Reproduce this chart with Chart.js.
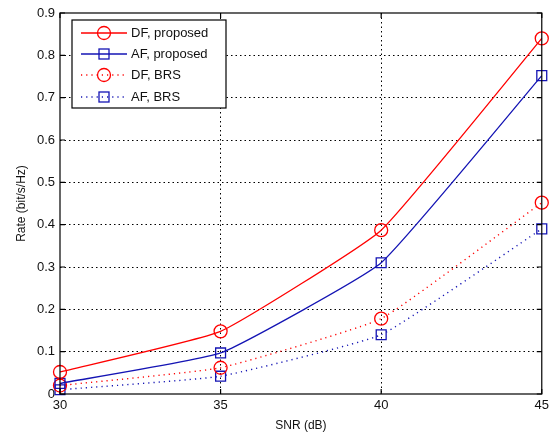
<!DOCTYPE html>
<html><head><meta charset="utf-8">
<script src="https://cdn.jsdelivr.net/npm/chart.js@4/dist/chart.umd.min.js"></script>
<style>html,body{margin:0;padding:0;background:#fff;}canvas{display:block;}</style>
</head><body>
<canvas id="c" width="553" height="437"></canvas>
<script>
const snr = [30, 35, 40, 45];
const dfProposed = [0.052, 0.148, 0.387, 0.840];
const afProposed = [0.025, 0.097, 0.310, 0.752];
const dfBRS = [0.020, 0.062, 0.178, 0.452];
const afBRS = [0.010, 0.042, 0.140, 0.390];
const yTicks = [0, 0.1, 0.2, 0.3, 0.4, 0.5, 0.6, 0.7, 0.8, 0.9];
const labels = ['DF, proposed', 'AF, proposed', 'DF, BRS', 'AF, BRS'];

const RED = 'rgb(255,0,0)', BLUE = 'rgb(20,20,180)';
const FONT = 'Liberation Sans, Arial, sans-serif';

function ds(label, data, color, style, dotted) {
  return {
    label, data: snr.map((x, i) => ({x, y: data[i]})),
    borderColor: color, backgroundColor: 'transparent',
    pointBorderColor: color, pointBackgroundColor: 'transparent',
    pointStyle: style, pointRadius: style === 'rect' ? 7 : 6.5, pointBorderWidth: 1.3,
    borderWidth: dotted ? 1.4 : 1.3, borderDash: dotted ? [1.2, 4] : [],
    tension: 0.12, clip: false
  };
}

const frame = {
  id: 'frame',
  afterDraw(chart) {
    const {ctx, chartArea: a} = chart;
    ctx.save();
    ctx.strokeStyle = '#000'; ctx.lineWidth = 1.2;
    ctx.strokeRect(a.left, a.top, a.right - a.left, a.bottom - a.top);
    const xs = chart.scales.x, ys = chart.scales.y;
    ctx.beginPath();
    snr.forEach(v => { const p = xs.getPixelForValue(v);
      ctx.moveTo(p, a.bottom); ctx.lineTo(p, a.bottom - 5);
      ctx.moveTo(p, a.top); ctx.lineTo(p, a.top + 5); });
    yTicks.forEach(v => { const p = ys.getPixelForValue(v);
      ctx.moveTo(a.left, p); ctx.lineTo(a.left + 5, p);
      ctx.moveTo(a.right, p); ctx.lineTo(a.right - 5, p); });
    ctx.stroke();
    // legend
    const bx = 72, by = 20, bw = 154, bh = 88;
    ctx.fillStyle = '#fff'; ctx.fillRect(bx, by, bw, bh);
    ctx.strokeStyle = '#000'; ctx.lineWidth = 1.2; ctx.strokeRect(bx, by, bw, bh);
    const rows = [33, 54, 75, 97];
    chart.data.datasets.forEach((d, i) => {
      const y = rows[i];
      ctx.strokeStyle = d.borderColor; ctx.lineWidth = d.borderWidth;
      ctx.setLineDash(d.borderDash);
      ctx.beginPath(); ctx.moveTo(81, y); ctx.lineTo(127, y); ctx.stroke();
      ctx.setLineDash([]);
      ctx.lineWidth = 1.3;
      if (d.pointStyle === 'circle') { ctx.beginPath(); ctx.arc(104, y, 6.5, 0, Math.PI * 2); ctx.stroke(); }
      else { ctx.strokeRect(104 - 5, y - 5, 10, 10); }
      ctx.fillStyle = '#111'; ctx.font = '13px ' + FONT; ctx.textBaseline = 'middle';
      ctx.fillText(d.label, 131, y);
    });
    ctx.restore();
  }
};

new Chart(document.getElementById('c'), {
  type: 'line',
  data: { datasets: [
    ds(labels[0], dfProposed, RED, 'circle', false),
    ds(labels[1], afProposed, BLUE, 'rect', false),
    ds(labels[2], dfBRS, RED, 'circle', true),
    ds(labels[3], afBRS, BLUE, 'rect', true)
  ]},
  options: {
    responsive: false, animation: false, devicePixelRatio: 1,
    layout: { padding: { top: 13, right: 9, left: 0, bottom: 0 } },
    plugins: { legend: { display: false }, tooltip: { enabled: false } },
    scales: {
      x: {
        type: 'linear', min: 30, max: 45,
        afterBuildTicks: s => { s.ticks = snr.map(v => ({value: v})); },
        afterFit: s => { s.height = 43; },
        border: { display: false, dash: [1.5, 3] },
        grid: { color: c => (c.tick.value === 30 || c.tick.value === 45) ? 'transparent' : '#000',
                lineWidth: 1, drawTicks: false },
        ticks: { color: '#111', font: { family: FONT, size: 13 }, padding: 4 },
        title: { display: true, text: 'SNR (dB)', color: '#111', font: { family: FONT, size: 12 }, padding: { top: 2 } }
      },
      y: {
        min: 0, max: 0.9,
        afterBuildTicks: s => { s.ticks = yTicks.map(v => ({value: v})); },
        afterFit: s => { s.width = 60; },
        border: { display: false, dash: [1.5, 3] },
        grid: { color: c => (c.tick.value === 0 || c.tick.value === 0.9) ? 'transparent' : '#000',
                lineWidth: 1, drawTicks: false },
        ticks: { color: '#111', font: { family: FONT, size: 13 }, padding: 5,
                 callback: v => v === 0 ? '0' : v.toFixed(1) },
        title: { display: true, text: 'Rate (bit/s/Hz)', color: '#111', font: { family: FONT, size: 12 }, padding: { top: 14, bottom: 4 } }
      }
    }
  },
  plugins: [frame]
});
</script>
</body></html>
